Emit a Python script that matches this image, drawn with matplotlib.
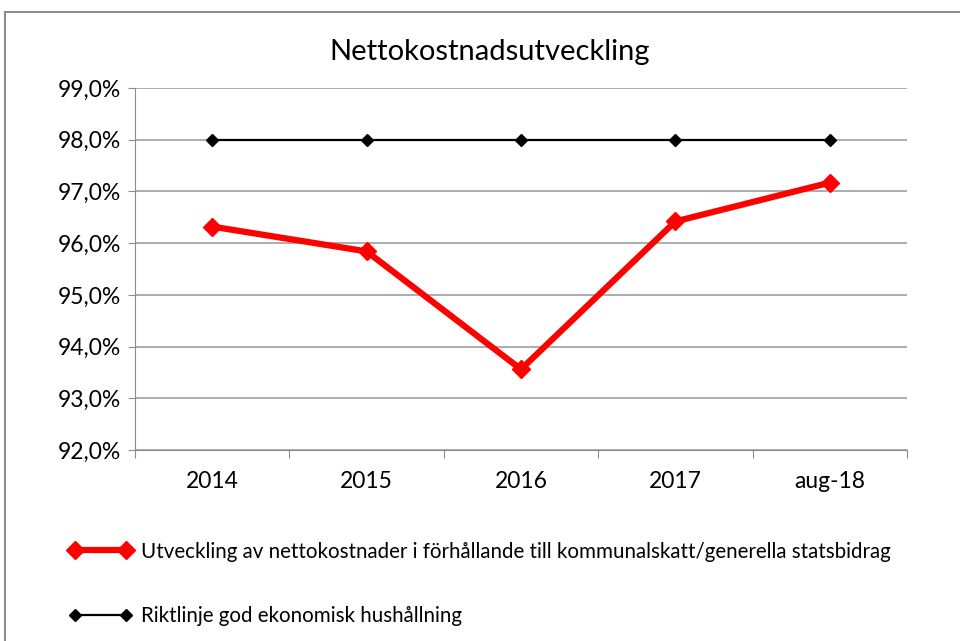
import matplotlib.pyplot as plt
from matplotlib.patches import Rectangle
from matplotlib.lines import Line2D
from matplotlib.ticker import FuncFormatter, MultipleLocator

# data
categories = ['2014', '2015', '2016', '2017', 'aug-18']
utveckling = [96.32, 95.84, 93.56, 96.42, 97.17]
riktlinje = [98.0, 98.0, 98.0, 98.0, 98.0]

label_red = 'Utveckling av nettokostnader i förhållande till kommunalskatt/generella statsbidrag'
label_black = 'Riktlinje god ekonomisk hushållning'

plt.rcParams['font.family'] = ['Lato', 'DejaVu Sans']

fig = plt.figure(figsize=(9.6, 6.41), dpi=100)
ax = fig.add_axes([135 / 960, 1 - 450 / 641, 772 / 960, 362 / 641])

x = range(len(categories))
ax.plot(x, utveckling, color='#ff0000', lw=4.5, marker='D', ms=9, zorder=3)
ax.plot(x, riktlinje, color='black', lw=1.6, marker='D', ms=6, zorder=3)

ax.set_xlim(-0.5, len(categories) - 0.5)
ax.set_ylim(92, 99)
ax.yaxis.set_major_locator(MultipleLocator(1))
ax.yaxis.set_major_formatter(FuncFormatter(lambda v, p: f'{v:.1f}%'.replace('.', ',')))
ax.grid(axis='y', color='#a6a6a6', lw=1.3)
ax.set_axisbelow(True)

# category ticks sit between the bands, labels in the middle
ax.set_xticks([i - 0.5 for i in range(len(categories) + 1)])
ax.set_xticklabels([])
ax.set_xticks(list(x), minor=True)
ax.set_xticklabels(categories, minor=True)
ax.tick_params(axis='x', which='major', length=6, color='#8c8c8c')
ax.tick_params(axis='x', which='minor', length=0, pad=15, labelsize=16.5)
ax.tick_params(axis='y', length=5, color='#8c8c8c', labelsize=16.5, pad=5)

for s in ['top', 'right']:
    ax.spines[s].set_visible(False)
ax.spines['left'].set_color('#8c8c8c')
ax.spines['bottom'].set_color('#8c8c8c')

fig.text(490 / 960, 1 - 52 / 641, 'Nettokostnadsutveckling', ha='center', va='center', fontsize=21)

handles = [
    Line2D([], [], color='#ff0000', lw=4.5, marker='D', ms=9),
    Line2D([], [], color='black', lw=1.6, marker='D', ms=6),
]
fig.legend(handles, [label_red, label_black], loc='upper left', numpoints=2,
           bbox_to_anchor=(50 / 960, 1 - 523 / 641), frameon=False, fontsize=14.8,
           handlelength=3.1, handletextpad=0.45, labelspacing=2.15)

# outer chart border (cut off at right/bottom like the screenshot)
fig.patches.append(Rectangle((5 / 960, -0.1), 1.2, 1 - 12 / 641 + 0.1, transform=fig.transFigure,
                             fill=False, edgecolor='#8c8c8c', lw=1.5))

fig.savefig('out.png', dpi=100)
